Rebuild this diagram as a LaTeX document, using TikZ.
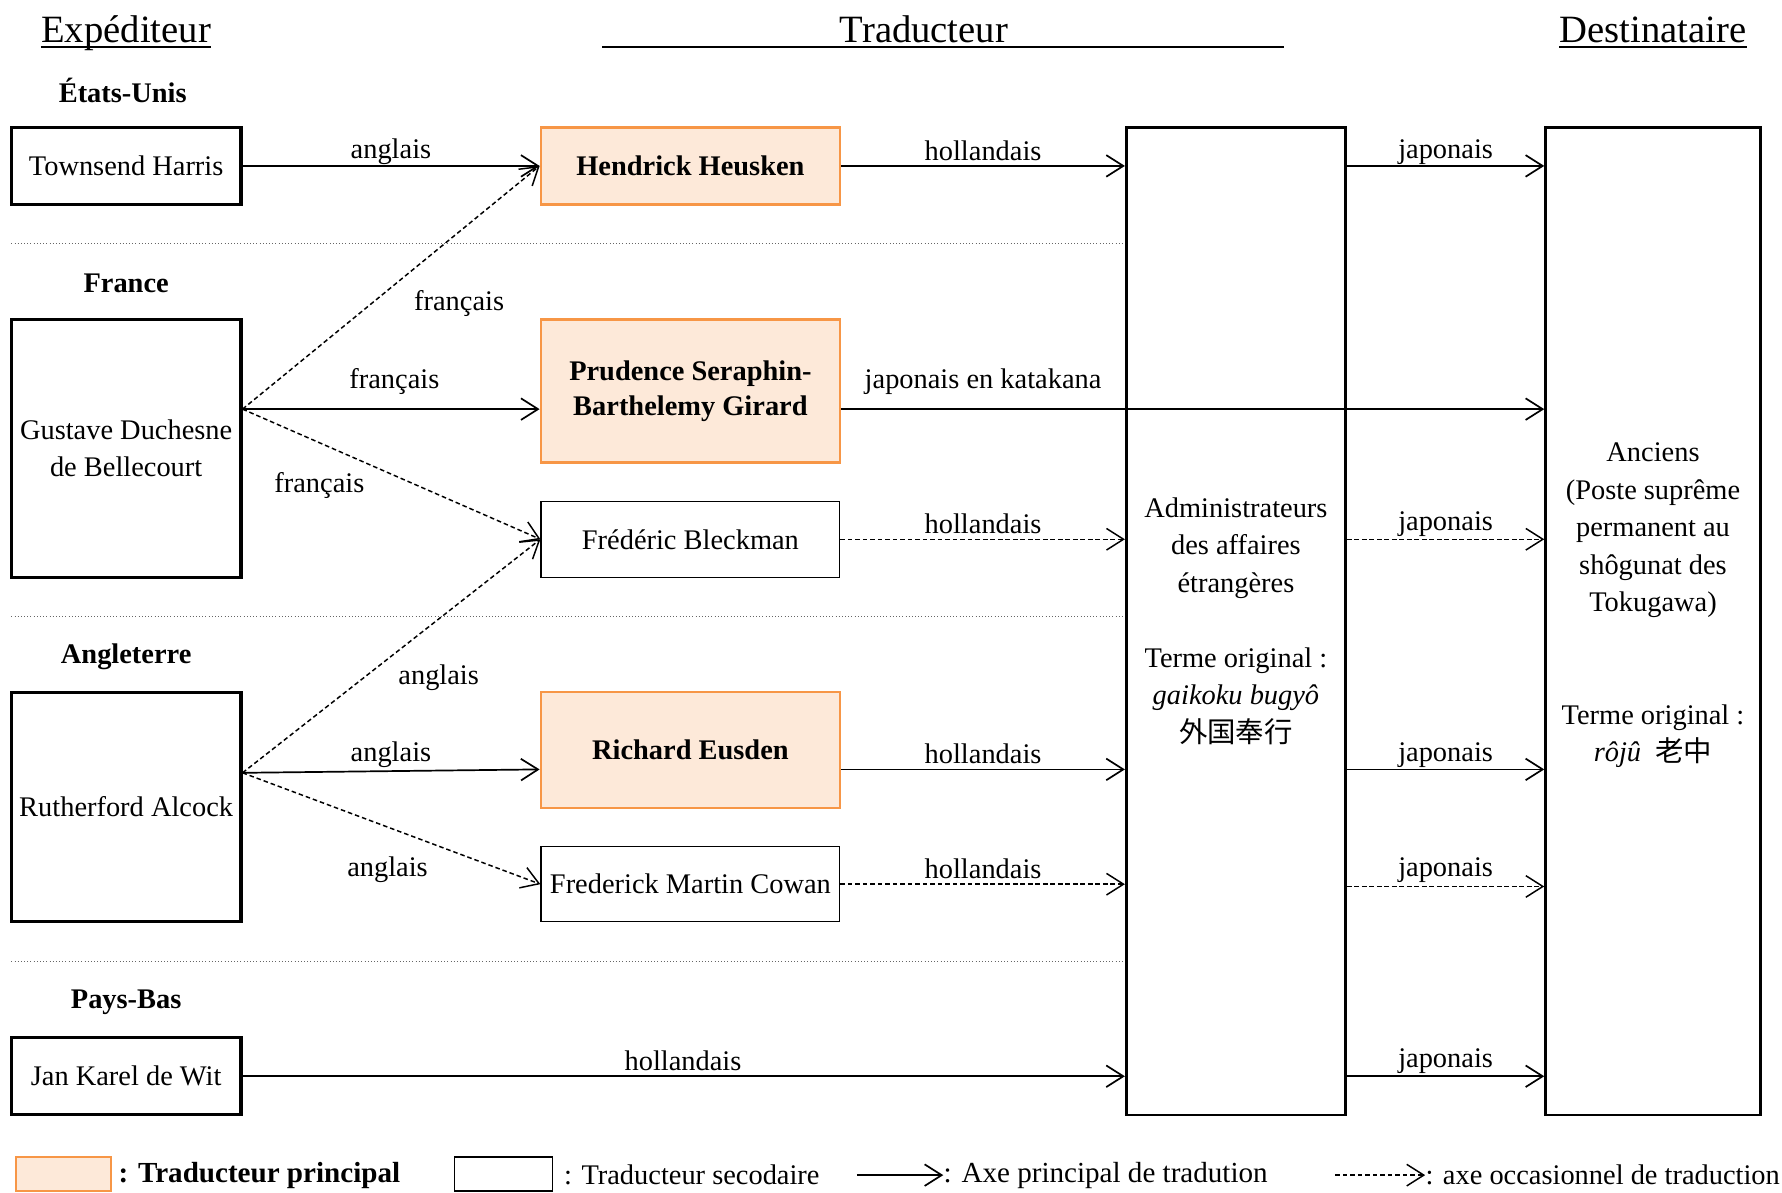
\documentclass[tikz,border=0pt]{standalone}
\usepackage{fontspec}
\setmainfont{Liberation Serif}
\newfontfamily\cjk{Noto Sans CJK JP}
\usetikzlibrary{arrows.meta,calc}
\definecolor{orfill}{HTML}{FDE9D9}
\definecolor{ordraw}{HTML}{F79646}
\begin{document}
\begin{tikzpicture}[x=0.5pt,y=-0.5pt,
  font=\fontsize{12.5}{16.5}\selectfont,
  sbox/.style={draw, line width=1.4pt, minimum width=101pt, align=center, inner sep=1pt},
  pbox/.style={draw=ordraw, fill=orfill, line width=1.2pt, minimum width=131.5pt, align=center, font=\fontsize{12.5}{15.5}\selectfont\bfseries},
  tbox/.style={draw, line width=0.5pt, minimum width=131.5pt, align=center, inner sep=1pt},
  rbox/.style={draw, line width=1.2pt, minimum height=434.5pt, align=center},
  hdr/.style={font=\fontsize{17}{20}\selectfont, inner sep=0pt, anchor=base},
  ctry/.style={font=\fontsize{12.5}{15}\selectfont\bfseries},
  lab/.style={inner sep=0pt},
  mainarr/.style={line width=0.75pt, -{Straight Barb[length=7.5pt,width=9.5pt,line width=0.75pt]}},
  occarr/.style={line width=0.65pt, dash pattern=on 2pt off 1.3pt, -{Straight Barb[length=7.5pt,width=9.5pt,line width=0.65pt]}},
  sepline/.style={densely dotted, line width=0.4pt, black!60}
]
\useasboundingbox (0,0) rectangle (1568,1049);

% headers
\node[hdr] (hexp) at (111,37.5) {Expéditeur};
\node[hdr] (htrad) at (813,37.5) {Traducteur};
\node[hdr] (hdest) at (1454.5,37.5) {Destinataire};
\draw[line width=0.8pt] ([yshift=-1.8pt]hexp.base west) -- ([yshift=-1.8pt]hexp.base east);
\draw[line width=0.8pt] ([yshift=-1.8pt]hdest.base west) -- ([yshift=-1.8pt]hdest.base east);
\coordinate (tl) at (530,41);
\coordinate (tr) at (1130,41);
\draw[line width=0.8pt] (tl) -- (tr);

% countries
\node[ctry] (cus) at (108,80) {États-Unis};
\node[ctry] (cfr) at (111,249) {France};
\node[ctry] (cuk) at (111,578) {Angleterre};
\node[ctry] (cnl) at (111,882) {Pays-Bas};

% separators
\draw[sepline] (10,214) -- (990,214);
\draw[sepline] (10,542) -- (990,542);
\draw[sepline] (10,846) -- (990,846);

% senders
\node[sbox, minimum height=34pt] (harris) at (111,146) {Townsend Harris};
\node[sbox, minimum height=113.5pt] (bell) at (111,394.5) {Gustave Duchesne\\de Bellecourt};
\node[sbox, minimum height=101pt] (alcock) at (111,710) {Rutherford Alcock};
\node[sbox, minimum height=34pt] (wit) at (111,947) {Jan Karel de Wit};

% translators
\node[pbox, minimum height=34pt] (heusken) at (607.5,146) {Hendrick Heusken};
\node[pbox, minimum height=63pt] (girard) at (607.5,344) {Prudence Seraphin-\\Barthelemy Girard};
\node[tbox, minimum height=33.5pt] (bleck) at (607.5,474.5) {Frédéric Bleckman};
\node[pbox, minimum height=51pt] (eusden) at (607.5,660) {Richard Eusden};
\node[tbox, minimum height=33pt] (cowan) at (607.5,778) {Frederick Martin Cowan};

% receivers
\node[rbox, minimum width=96.5pt] (admin) at (1087.5,546.5)
  {Administrateurs\\des affaires\\étrangères\\[16.5pt]Terme original :\\\textit{gaikoku bugyô}\\{\cjk 外国奉行}};
\node[rbox, minimum width=94.5pt] (anciens) at (1454.5,546.5)
  {Anciens\\(Poste suprême\\permanent au\\shôgunat des\\Tokugawa)\\[33pt]Terme original :\\\textit{rôjû}\enspace{\cjk 老中}\\\mbox{}};

% anchors
\coordinate (bellout) at ([yshift=17.25pt]bell.east);
\coordinate (alcout) at ([yshift=15pt]alcock.east);
\coordinate (girin) at ([yshift=-8pt]girard.west);
\coordinate (girout) at ([yshift=-8pt]girard.east);
\coordinate (eusin) at ([yshift=-8.5pt]eusden.west);
\coordinate (eusout) at ([yshift=-8.5pt]eusden.east);

% sender -> translator
\draw[mainarr] (harris.east) -- (heusken.west);
\draw[occarr] (bellout) -- (heusken.west);
\draw[mainarr] (bellout) -- (girin);
\draw[occarr] (bellout) -- (bleck.west);
\draw[occarr] (alcout) -- (bleck.west);
\draw[mainarr] (alcout) -- (eusin);
\draw[occarr] (alcout) -- (cowan.west);
\draw[mainarr] (wit.east) -- (wit.east -| admin.west);

% translator -> receivers
\draw[mainarr] (heusken.east) -- (heusken.east -| admin.west);
\draw[mainarr, line width=1.1pt] (girout) -- (girout -| anciens.west);
\draw[occarr] (bleck.east) -- (bleck.east -| admin.west);
\draw[mainarr] (eusout) -- (eusout -| admin.west);
\draw[occarr] (cowan.east) -- (cowan.east -| admin.west);

% admin -> anciens
\draw[mainarr] (heusken.east -| admin.east) -- (heusken.east -| anciens.west);
\draw[occarr] (bleck.east -| admin.east) -- (bleck.east -| anciens.west);
\draw[mainarr] (eusout -| admin.east) -- (eusout -| anciens.west);
\draw[occarr] ([yshift=-1pt]cowan.east -| admin.east) -- ([yshift=-1pt]cowan.east -| anciens.west);
\draw[mainarr] (wit.east -| admin.east) -- (wit.east -| anciens.west);

% labels
\node[lab] (l1) at (344,133.5) {anglais};
\node[lab] (l2) at (404,267.5) {français};
\node[lab] (l3) at (347,335.5) {français};
\node[lab] (l4) at (281,427.5) {français};
\node[lab] (l5) at (386,596.5) {anglais};
\node[lab] (l6) at (344,664.5) {anglais};
\node[lab] (l7) at (341,765.5) {anglais};
\node[lab] (l8) at (601,933.5) {hollandais};
\node[lab] (l9) at (865,132.5) {hollandais};
\node[lab] (l10) at (865,335.5) {japonais en katakana};
\node[lab] (l11) at (865,460.5) {hollandais};
\node[lab] (l12) at (865,663.5) {hollandais};
\node[lab] (l13) at (865,764.5) {hollandais};
\node[lab] (j1) at (1272,133.5) {japonais};
\node[lab] (j2) at (1272,461.5) {japonais};
\node[lab] (j3) at (1272,664.5) {japonais};
\node[lab] (j4) at (1272,765.5) {japonais};
\node[lab] (j5) at (1272,933.5) {japonais};

% legend
\node[draw=ordraw, fill=orfill, line width=0.9pt, minimum width=42pt, minimum height=15pt] (leg1) at (56,1033) {};
\node[lab, anchor=west, font=\fontsize{12.8}{15}\selectfont\bfseries] (leg1t) at (104,1034) {: Traducteur principal};
\node[draw, line width=0.5pt, minimum width=43pt, minimum height=15pt] (leg2) at (443,1033) {};
\node[lab, anchor=west] (leg2t) at (496,1034) {: Traducteur secodaire};
\coordinate (leg3s) at (754,1034);
\node[lab, anchor=west, font=\fontsize{12.8}{15}\selectfont] (leg3t) at (830,1034) {: Axe principal de tradution};
\draw[mainarr, line width=1pt] (leg3s) -- (leg3t.west);
\coordinate (leg4s) at (1175,1034);
\node[lab, anchor=west] (leg4t) at (1254,1034) {: axe occasionnel de traduction};
\draw[occarr] (leg4s) -- (leg4t.west);
\end{tikzpicture}
\end{document}
